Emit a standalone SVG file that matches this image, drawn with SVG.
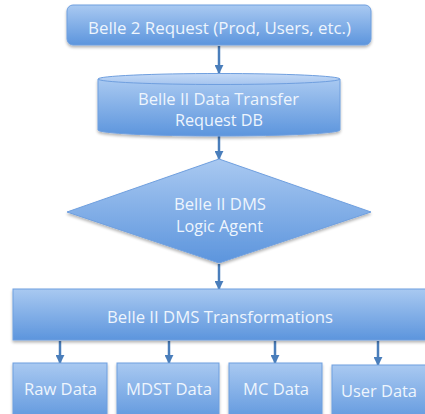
<svg xmlns="http://www.w3.org/2000/svg" width="425" height="414" viewBox="0 0 425 414">
<defs>
<linearGradient id="g" x1="0" y1="0" x2="0" y2="1">
<stop offset="0" stop-color="#a9c9f1"/>
<stop offset="1" stop-color="#5c95dd"/>
</linearGradient>
<linearGradient id="gt" x1="0" y1="0" x2="0" y2="1">
<stop offset="0" stop-color="#c3d9f6"/>
<stop offset="1" stop-color="#a6c5ef"/>
</linearGradient>
<marker id="ah" viewBox="0 0 10 10" refX="9" refY="5" markerWidth="3.6" markerHeight="3.6" orient="auto" markerUnits="strokeWidth">
<path d="M0,0 L10,5 L0,10 z" fill="#4a7ebb"/>
</marker>
<filter id="sh" x="-5%" y="-10%" width="110%" height="130%">
<feGaussianBlur in="SourceAlpha" stdDeviation="1.5"/>
<feOffset dy="2"/>
<feComponentTransfer><feFuncA type="linear" slope="0.3"/></feComponentTransfer>
<feMerge><feMergeNode/><feMergeNode in="SourceGraphic"/></feMerge>
</filter>
</defs>
<style>
.n{fill:url(#g);stroke:#6f9fdf;stroke-width:1;filter:url(#sh)}
.t{font-family:"Open Sans",Lato,sans-serif;font-size:17px;fill:#eef5fd;text-anchor:middle}
.c{stroke:#4a7ebb;stroke-width:2.5;fill:none;marker-end:url(#ah)}
</style>
<rect width="425" height="414" fill="#ffffff"/>
<g id="connectors">
<line class="c" x1="219" y1="46" x2="219" y2="73"/>
<line class="c" x1="219" y1="135" x2="219" y2="159"/>
<line class="c" x1="219" y1="264" x2="219" y2="289"/>
<line class="c" x1="60" y1="341" x2="60" y2="363"/>
<line class="c" x1="169" y1="341" x2="169" y2="363"/>
<line class="c" x1="275" y1="341" x2="275" y2="363"/>
<line class="c" x1="378" y1="341" x2="378" y2="365"/>
</g>
<g id="request">
<rect class="n" x="67" y="5" width="304" height="40" rx="6"/>
<text class="t" x="219.5" y="34" textLength="263" lengthAdjust="spacingAndGlyphs">Belle 2 Request (Prod, Users, etc.)</text>
</g>
<g id="db">
<path class="n" d="M98,79 L98,130 A121,6 0 0 0 340,130 L340,79 Z"/>
<ellipse cx="219" cy="79" rx="121" ry="5.5" fill="url(#gt)" stroke="#6f9fdf" stroke-width="1"/>
<text class="t" x="218.5" y="105" textLength="161" lengthAdjust="spacingAndGlyphs">Belle II Data Transfer</text>
<text class="t" x="219" y="126" textLength="88" lengthAdjust="spacingAndGlyphs">Request DB</text>
</g>
<g id="agent">
<polygon class="n" points="219,159 371,212 219,263 67,212"/>
<text class="t" x="220" y="210" textLength="92" lengthAdjust="spacingAndGlyphs">Belle II DMS</text>
<text class="t" x="219.5" y="232" textLength="87" lengthAdjust="spacingAndGlyphs">Logic Agent</text>
</g>
<g id="transformations">
<rect class="n" x="13" y="289" width="420" height="51"/>
<text class="t" x="220" y="323" textLength="226" lengthAdjust="spacingAndGlyphs">Belle II DMS Transformations</text>
</g>
<g id="raw">
<rect class="n" x="13" y="363" width="94" height="60"/>
<text class="t" x="60.5" y="395" textLength="73" lengthAdjust="spacingAndGlyphs">Raw Data</text>
</g>
<g id="mdst">
<rect class="n" x="117" y="363" width="102" height="60"/>
<text class="t" x="169" y="395" textLength="86" lengthAdjust="spacingAndGlyphs">MDST Data</text>
</g>
<g id="mc">
<rect class="n" x="229" y="363" width="93" height="60"/>
<text class="t" x="276" y="395" textLength="66" lengthAdjust="spacingAndGlyphs">MC Data</text>
</g>
<g id="user">
<rect class="n" x="332" y="365" width="100" height="60"/>
<text class="t" x="379" y="397" textLength="76" lengthAdjust="spacingAndGlyphs">User Data</text>
</g>
</svg>
